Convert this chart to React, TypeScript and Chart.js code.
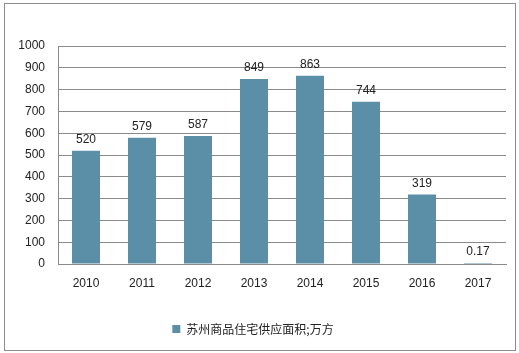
import React, { useEffect, useRef } from "react";
import { Chart, registerables } from "chart.js";

Chart.register(...registerables);

const categories = ["2010", "2011", "2012", "2013", "2014", "2015", "2016", "2017"];
const values = [520, 579, 587, 849, 863, 744, 319, 0.17];
const valueLabels = ["520", "579", "587", "849", "863", "744", "319", "0.17"];
const seriesName = "苏州商品住宅供应面积;万方";

const barColor = "#5B8FA8";
const gridColor = "#8A8A8A";

const dataLabelPlugin = {
  id: "dataLabels",
  afterDatasetsDraw(chart: any) {
    const ctx = chart.ctx;
    const meta = chart.getDatasetMeta(0);
    ctx.save();
    ctx.font = "12px 'Liberation Sans', Arial, sans-serif";
    ctx.fillStyle = "#222";
    ctx.textAlign = "center";
    ctx.textBaseline = "bottom";
    meta.data.forEach((bar: any, i: number) => {
      ctx.fillText(valueLabels[i], bar.x, bar.y - 5);
    });
    ctx.restore();
  },
};

export default function App() {
  const ref = useRef<HTMLCanvasElement>(null);
  useEffect(() => {
    if (!ref.current) return;
    const chart = new Chart(ref.current, {
      type: "bar",
      data: {
        labels: categories,
        datasets: [
          {
            label: seriesName,
            data: values,
            backgroundColor: barColor,
            borderWidth: 0,
            barPercentage: 0.5,
            categoryPercentage: 1,
            minBarLength: 1,
          },
        ],
      },
      options: {
        responsive: false,
        animation: false,
        layout: { padding: { top: 46, right: 13, left: 0, bottom: 8 } },
        plugins: {
          tooltip: { enabled: false },
          legend: {
            position: "bottom",
            labels: {
              boxWidth: 8,
              boxHeight: 8,
              padding: 10,
              color: "#222",
              font: { size: 12, family: "'Noto Sans CJK SC', sans-serif" },
            },
          },
        },
        scales: {
          x: {
            grid: { display: false, drawTicks: false },
            border: { display: true, color: gridColor },
            ticks: {
              padding: 12,
              color: "#222",
              font: { size: 12, family: "'Liberation Sans', Arial, sans-serif" },
            },
            afterFit(scale: any) {
              scale.height = 49;
            },
          },
          y: {
            min: 0,
            max: 1000,
            ticks: {
              stepSize: 100,
              padding: 13,
              color: "#222",
              font: { size: 12, family: "'Liberation Sans', Arial, sans-serif" },
              callback: (v: any) => String(v),
            },
            grid: { color: gridColor, drawTicks: false },
            border: { display: true, color: gridColor },
            afterFit(scale: any) {
              scale.width = 58;
            },
          },
        },
      },
      plugins: [dataLabelPlugin],
    });
    return () => chart.destroy();
  }, []);

  return (
    <div style={{ position: "fixed", left: 0, top: 0, width: 519, height: 353, background: "#fff" }}>
      <canvas ref={ref} width={519} height={353} style={{ position: "absolute", left: 0, top: 0 }} />
      <div
        style={{
          position: "absolute",
          left: 4,
          top: 3,
          width: 512,
          height: 348,
          border: "1px solid #8c8c8c",
          boxSizing: "border-box",
          pointerEvents: "none",
        }}
      />
    </div>
  );
}
